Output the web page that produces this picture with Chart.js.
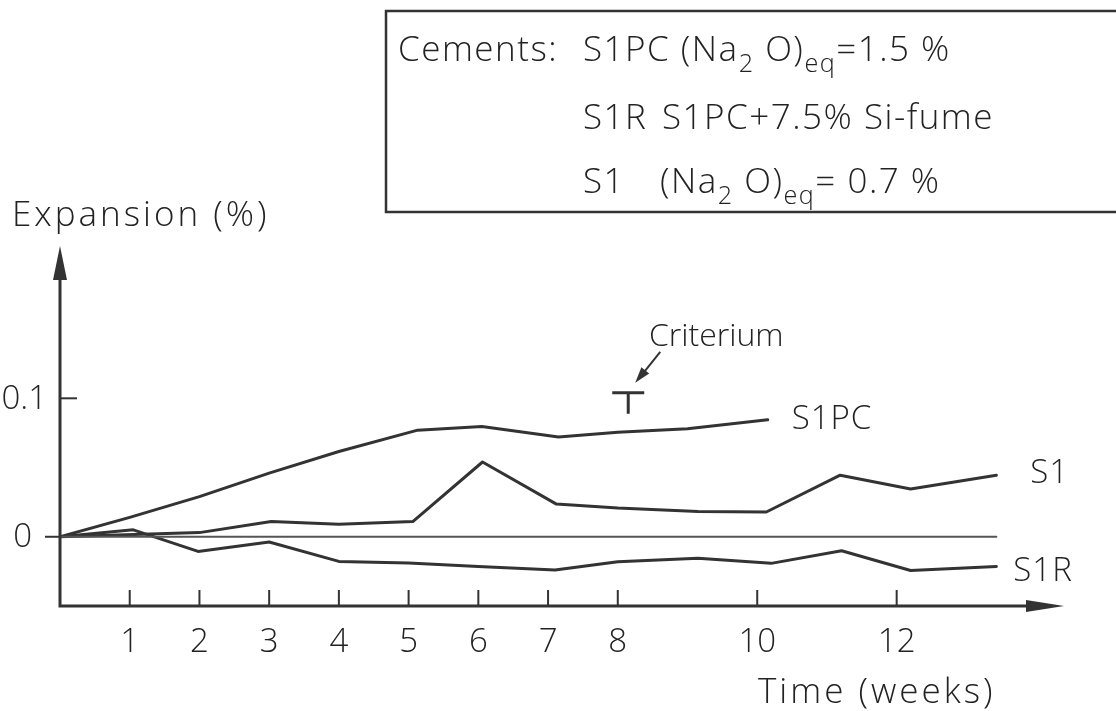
<!DOCTYPE html>
<html>
<head>
<meta charset="utf-8">
<title>Expansion vs time</title>
<script src="https://cdn.jsdelivr.net/npm/chart.js@4/dist/chart.umd.min.js"></script>
<style>
  html, body { margin: 0; padding: 0; background: #ffffff; }
  #wrap { width: 1116px; height: 711px; position: relative; }
</style>
</head>
<body>
<div id="wrap"><canvas id="chart" width="1116" height="711"></canvas></div>
<script>
// Expansion (%) measured against time (weeks) for three cements
const weeksS1PC = [0, 1, 2, 3, 4, 5.13, 6.05, 7.15, 8, 9, 10.15];
const expS1PC   = [0, 0.014, 0.029, 0.046, 0.0616, 0.077, 0.0797, 0.072, 0.0755, 0.078, 0.0845];

const weeksS1 = [0, 2, 3.03, 4, 5.06, 6.06, 7.12, 8, 9.15, 10.13, 11.19, 12.2, 13.43];
const expS1   = [0, 0.003, 0.011, 0.009, 0.011, 0.054, 0.0236, 0.0207, 0.0183, 0.0179, 0.0445, 0.0345, 0.0445];

const weeksS1R = [0, 1.05, 1.98, 3.0, 4.0, 5.0, 6.0, 7.1, 8, 9.15, 10.2, 11.21, 12.2, 13.43];
const expS1R   = [0, 0.005, -0.0106, -0.0038, -0.0178, -0.019, -0.0214, -0.024, -0.018, -0.0156, -0.0192, -0.0101, -0.0244, -0.0215];

// zero reference line spans the measured period
const weeksZero = [0, 13.43];
const expZero   = [0, 0];

// acceptance criterium marker
const criteriumWeek = 8.15;
const criteriumExp  = 0.104;

const seriesNames = ['S1PC', 'S1', 'S1R'];

const xTickValues = [1, 2, 3, 4, 5, 6, 7, 8, 10, 12];
const xTickLabels = ['1', '2', '3', '4', '5', '6', '7', '8', '10', '12'];
const yTickValues = [0, 0.1];
const yTickLabels = ['0', '0.1'];

const xMin = 0, xMax = 14.4;
const yMin = -0.05, yMax = 0.21;

const INK = '#333333';
const TEXT = '#222222';
const FONT = '"Open Sans", "DejaVu Sans", sans-serif';

function toPoints(xs, ys) {
  return xs.map((x, i) => ({ x: x, y: ys[i] }));
}

function lineSet(label, xs, ys, width, color) {
  return {
    label: label,
    data: toPoints(xs, ys),
    borderColor: color,
    borderWidth: width,
    pointRadius: 0,
    tension: 0,
    fill: false,
    borderJoinStyle: 'round',
    borderCapStyle: 'round'
  };
}

function font(size) {
  return '300 ' + size + 'px ' + FONT;
}

// draws a string with inline subscript parts, returns the end x
function drawRich(ctx, x, y, parts, size) {
  let cx = x;
  parts.forEach(p => {
    const s = p.sub ? size * 0.72 : size;
    ctx.font = font(s);
    ctx.fillText(p.t, cx, y + (p.sub ? size * 0.3 : 0));
    cx += ctx.measureText(p.t).width;
  });
  return cx;
}

function arrowHead(ctx, tipX, tipY, dirX, dirY, len, half) {
  const n = Math.hypot(dirX, dirY);
  const ux = dirX / n, uy = dirY / n;
  const bx = tipX - ux * len, by = tipY - uy * len;
  ctx.beginPath();
  ctx.moveTo(tipX, tipY);
  ctx.lineTo(bx - uy * half, by + ux * half);
  ctx.lineTo(bx + uy * half, by - ux * half);
  ctx.closePath();
  ctx.fill();
}

const figurePlugin = {
  id: 'figureFrame',
  afterDatasetsDraw(chart) {
    const ctx = chart.ctx;
    const xs = chart.scales.x, ys = chart.scales.y;
    const left = xs.getPixelForValue(xMin);
    const right = xs.getPixelForValue(xMax);
    const bottom = ys.getPixelForValue(yMin);
    const top = ys.getPixelForValue(yMax);

    ctx.save();
    ctx.strokeStyle = INK;
    ctx.fillStyle = INK;
    ctx.lineCap = 'butt';

    // axes with arrow heads
    ctx.lineWidth = 3;
    ctx.beginPath();
    ctx.moveTo(left, top + 20);
    ctx.lineTo(left, bottom);
    ctx.lineTo(right - 20, bottom);
    ctx.stroke();
    arrowHead(ctx, right, bottom, 1, 0, 38, 6);
    arrowHead(ctx, left, top, 0, -1, 34, 7);

    // x ticks point into the plot
    ctx.lineWidth = 2;
    xTickValues.forEach(v => {
      const px = xs.getPixelForValue(v);
      ctx.beginPath();
      ctx.moveTo(px, bottom);
      ctx.lineTo(px, bottom - 16);
      ctx.stroke();
    });

    // y ticks: 0.1 inside, 0 outside
    yTickValues.forEach(v => {
      const py = ys.getPixelForValue(v);
      ctx.beginPath();
      if (v === 0) { ctx.moveTo(left - 15, py); ctx.lineTo(left, py); }
      else { ctx.moveTo(left, py); ctx.lineTo(left + 17, py); }
      ctx.stroke();
    });

    ctx.fillStyle = TEXT;

    // tick labels
    ctx.textBaseline = 'middle';
    ctx.textAlign = 'center';
    ctx.font = font(33);
    xTickValues.forEach((v, i) => {
      ctx.fillText(xTickLabels[i], xs.getPixelForValue(v), bottom + 37);
    });
    ctx.textAlign = 'right';
    yTickValues.forEach((v, i) => {
      ctx.fillText(yTickLabels[i], v === 0 ? 32 : 47, ys.getPixelForValue(v) + 1);
    });

    // axis titles
    ctx.textAlign = 'left';
    ctx.textBaseline = 'alphabetic';
    ctx.font = font(35);
    ctx.letterSpacing = '3px';
    ctx.fillText('Expansion (%)', 12, 226);
    ctx.fillText('Time (weeks)', 758, 703);
    ctx.letterSpacing = '0px';

    // series labels beside the line ends
    const ends = [
      { xsArr: weeksS1PC, ysArr: expS1PC, dx: 24, dy: 0 },
      { xsArr: weeksS1, ysArr: expS1, dx: 34, dy: -2 },
      { xsArr: weeksS1R, ysArr: expS1R, dx: 17, dy: 5 }
    ];
    ctx.textBaseline = 'middle';
    ctx.font = font(33);
    ctx.letterSpacing = '1px';
    ends.forEach((e, i) => {
      const n = e.xsArr.length - 1;
      const px = xs.getPixelForValue(e.xsArr[n]);
      const py = ys.getPixelForValue(e.ysArr[n]);
      ctx.fillText(seriesNames[i], px + e.dx, py + e.dy);
    });
    ctx.letterSpacing = '0px';

    // criterium marker with pointer
    const cx = xs.getPixelForValue(criteriumWeek);
    const cy = ys.getPixelForValue(criteriumExp);
    ctx.strokeStyle = INK;
    ctx.fillStyle = INK;
    ctx.lineWidth = 3;
    ctx.beginPath();
    ctx.moveTo(cx - 16, cy); ctx.lineTo(cx + 16, cy);
    ctx.moveTo(cx, cy); ctx.lineTo(cx, cy + 21);
    ctx.stroke();
    ctx.lineWidth = 2;
    ctx.beginPath();
    ctx.moveTo(cx + 32, cy - 41);
    ctx.lineTo(cx + 12, cy - 16);
    ctx.stroke();
    arrowHead(ctx, cx + 7, cy - 10, -25, 31, 16, 5);
    ctx.fillStyle = TEXT;
    ctx.textAlign = 'center';
    ctx.textBaseline = 'alphabetic';
    ctx.font = font(32);
    ctx.fillText('Criterium', cx + 88, cy - 47);

    // legend box describing the cements
    ctx.strokeStyle = INK;
    ctx.lineWidth = 2.5;
    ctx.strokeRect(386, 11, 760, 201);
    ctx.textAlign = 'left';
    ctx.textBaseline = 'alphabetic';
    const fs = 35;
    ctx.letterSpacing = '1.5px';
    ctx.font = font(fs);
    ctx.fillText('Cements:', 398, 61);
    drawRich(ctx, 583, 61, [
      { t: 'S1PC (Na' }, { t: '2', sub: true }, { t: ' O)' }, { t: 'eq', sub: true }, { t: '=1.5 %' }
    ], fs);
    ctx.font = font(fs);
    ctx.fillText('S1R', 583, 129);
    ctx.fillText('S1PC+7.5% Si-fume', 662, 129);
    ctx.fillText('S1', 583, 193);
    drawRich(ctx, 660, 193, [
      { t: '(Na' }, { t: '2', sub: true }, { t: ' O)' }, { t: 'eq', sub: true }, { t: '= 0.7 %' }
    ], fs);
    ctx.letterSpacing = '0px';

    ctx.restore();
  }
};

new Chart(document.getElementById('chart'), {
  type: 'line',
  data: {
    datasets: [
      lineSet('zero', weeksZero, expZero, 2, '#555555'),
      lineSet(seriesNames[0], weeksS1PC, expS1PC, 3, INK),
      lineSet(seriesNames[1], weeksS1, expS1, 3, INK),
      lineSet(seriesNames[2], weeksS1R, expS1R, 3, INK)
    ]
  },
  options: {
    responsive: false,
    animation: false,
    layout: { padding: { left: 60, right: 52, top: 246, bottom: 105 } },
    scales: {
      x: { type: 'linear', min: xMin, max: xMax, display: false },
      y: { type: 'linear', min: yMin, max: yMax, display: false }
    },
    plugins: {
      legend: { display: false },
      tooltip: { enabled: false }
    }
  },
  plugins: [figurePlugin]
});
</script>
</body>
</html>
